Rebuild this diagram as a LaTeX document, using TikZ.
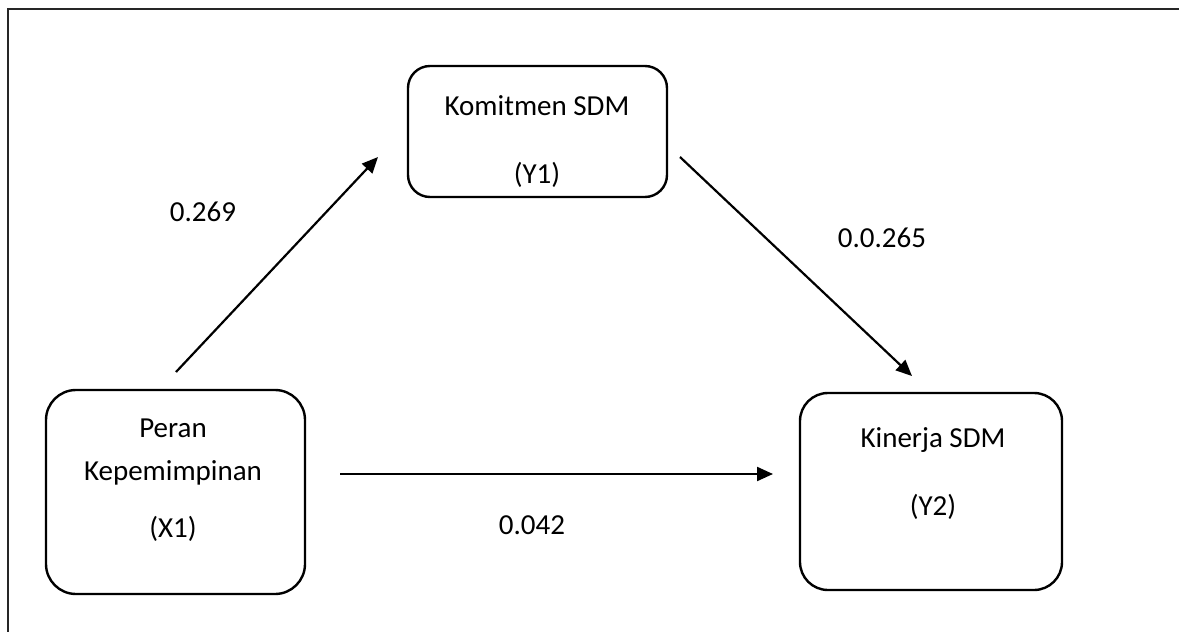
\documentclass[tikz,border=0pt]{standalone}
\usepackage{fontspec}
\setmainfont{Carlito}
\usetikzlibrary{arrows.meta}
\begin{document}
\begin{tikzpicture}[x=1pt,y=-1pt,
  box/.style={draw,line width=2.4pt,rounded corners=#1,inner sep=0pt},
  txt/.style={inner sep=0pt,anchor=base,font=\fontsize{29}{34}\selectfont},
  arr/.style={line width=2.2pt,-{Triangle[length=16pt,width=14pt]}}]
\useasboundingbox (0,0) rectangle (1179,632);
\draw[line width=2pt,black!85] (8,632) -- (8,9) -- (1179,9);
% boxes
\node[box=22pt,minimum width=259pt,minimum height=131pt] (y1) at (537.5,131.5) {};
\node[box=30pt,minimum width=259pt,minimum height=204pt] (x1) at (175.5,492) {};
\node[box=28pt,minimum width=262pt,minimum height=197pt] (y2) at (931,491.5) {};
% texts
\node[txt] (y1a) at (537,115) {Komitmen SDM};
\node[txt] (y1b) at (537,183) {(Y1)};
\node[txt] (x1a) at (173,437) {Peran};
\node[txt] (x1b) at (173,480) {Kepemimpinan};
\node[txt] (x1c) at (173,537) {(X1)};
\node[txt] (y2a) at (933,447) {Kinerja SDM};
\node[txt] (y2b) at (933,515) {(Y2)};
% arrow coordinates
\coordinate (a1s) at (176,372);
\coordinate (a1e) at (378,157);
\coordinate (a2s) at (680,157);
\coordinate (a2e) at (912,376);
\coordinate (a3s) at (340,474);
\coordinate (a3e) at (773,474);
\draw[arr] (a1s) -- (a1e);
\draw[arr] (a2s) -- (a2e);
\draw[arr] (a3s) -- (a3e);
% labels
\node[txt] (l1) at (203,221) {0.269};
\node[txt] (l2) at (882,247) {0.0.265};
\node[txt] (l3) at (532,534) {0.042};
\end{tikzpicture}
\end{document}
